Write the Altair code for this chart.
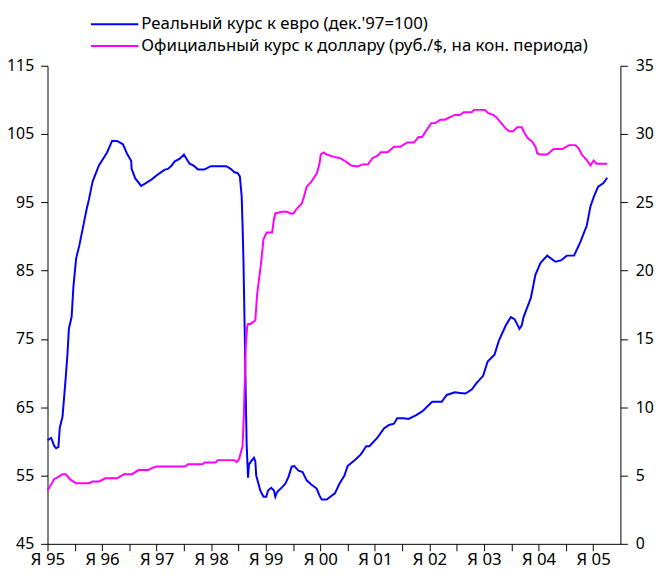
import altair as alt
import pandas as pd

# Real exchange rate to euro (Dec'97=100), left axis; t = months since Jan 1995
blue_t = [0, 0.8, 1.5, 1.9, 2.4, 2.7, 3.3, 4.0, 4.4, 4.7, 5.3, 5.7, 6.3, 7.0, 8.0, 8.6, 9.1, 9.9,
          11.3, 13.1, 14.2, 15.3, 16.6, 17.5, 18.4, 18.5, 19.3, 20.6, 21.8, 23.0, 24.3, 25.8, 26.5,
          27.3, 28.0, 29.1, 30.0, 31.2, 32.3, 33.1, 34.5, 35.9, 39.3, 40.3, 41.1, 41.8, 42.3, 42.7,
          42.9, 43.1, 43.4, 43.6, 43.8, 44.1, 44.3, 44.8, 45.4, 45.7, 45.9, 46.8, 47.5, 48.1, 48.5,
          49.2, 49.8, 50.1, 50.5, 51.6, 52.3, 53.0, 53.7, 54.3, 55.2, 56.1, 57.0, 58.0, 59.2, 59.8,
          60.3, 61.4, 63.2, 64.2, 65.3, 66.0, 67.8, 68.9, 70.1, 70.8, 72.6, 74.0, 75.1, 76.2, 76.9,
          78.3, 79.4, 81.0, 82.4, 84.6, 86.7, 87.8, 89.6, 90.7, 91.9, 93.3, 94.3, 95.8, 96.8, 98.3,
          99.3, 100.8, 101.9, 102.7, 103.8, 104.3, 104.7, 106.3, 107.3, 108.4, 109.9, 111.7, 112.9,
          114.2, 115.8, 117.2, 118.6, 119.4, 120.2, 121.1, 122.2, 123.1]
blue_v = [60.2, 60.5, 59.3, 59.0, 59.2, 62.0, 63.6, 69.3, 72.9, 76.5, 78.2, 82.7, 86.8, 88.7, 92.0,
          94.0, 95.4, 98.0, 100.4, 102.3, 104.0, 104.0, 103.5, 102.1, 101.1, 99.9, 98.5, 97.4, 97.9,
          98.4, 99.1, 99.8, 99.9, 100.4, 101.0, 101.4, 102.0, 100.7, 100.3, 99.8, 99.8, 100.3, 100.3,
          99.9, 99.4, 99.3, 98.8, 95.9, 91.6, 86.3, 74.9, 66.7, 59.5, 54.7, 56.6, 57.1, 57.6, 57.1,
          55.0, 52.8, 51.9, 51.9, 52.8, 53.2, 52.8, 51.9, 52.6, 53.3, 53.8, 54.8, 56.3, 56.4, 55.7,
          55.5, 54.3, 53.7, 53.1, 52.1, 51.5, 51.5, 52.4, 53.8, 55.0, 56.4, 57.4, 58.1, 59.3, 59.3,
          60.6, 61.9, 62.4, 62.6, 63.4, 63.4, 63.3, 63.8, 64.4, 65.8, 65.8, 66.8, 67.2, 67.1, 67.0,
          67.6, 68.5, 69.6, 71.7, 72.7, 74.8, 77.0, 78.2, 77.9, 76.5, 77.0, 78.2, 81.0, 84.4, 86.1,
          87.2, 86.3, 86.5, 87.2, 87.2, 89.2, 91.6, 94.4, 95.9, 97.3, 97.8, 98.6]

# Official rate to the dollar (rub/$, end of period), right axis
pink_t = [0, 1.5, 2.2, 3.3, 4.0, 5.1, 6.3, 9.2, 9.9, 11.3, 12.7, 15.3, 16.8, 18.6, 20.0, 22.2,
          22.9, 24.0, 30.2, 30.9, 34.1, 34.5, 37.0, 37.4, 41.1, 41.6, 42.1, 42.9, 43.2, 43.6, 43.9,
          44.1, 44.6, 45.7, 46.1, 47.0, 47.5, 48.2, 49.4, 49.8, 50.1, 51.6, 52.7, 53.4, 54.1, 54.8,
          55.9, 56.3, 57.0, 58.0, 59.2, 59.8, 60.1, 60.7, 61.4, 62.8, 64.2, 65.3, 66.8, 68.2, 69.3,
          70.5, 71.5, 72.6, 73.3, 74.8, 76.2, 77.6, 79.1, 80.6, 81.6, 82.4, 83.2, 84.4, 85.3, 86.4,
          87.4, 88.5, 89.6, 90.7, 91.5, 93.3, 93.8, 96.2, 96.9, 98.0, 98.7, 99.8, 100.8, 101.5, 102.4,
          103.3, 104.3, 104.9, 105.6, 106.6, 107.4, 107.7, 108.4, 109.9, 111.3, 113.2, 114.7, 116.1,
          116.8, 117.5, 118.6, 119.4, 120.1, 120.8, 123.1]
pink_v = [3.9, 4.75, 4.87, 5.1, 5.1, 4.68, 4.44, 4.44, 4.56, 4.56, 4.8, 4.8, 5.1, 5.1, 5.4, 5.4,
          5.54, 5.66, 5.66, 5.82, 5.82, 5.95, 5.95, 6.13, 6.13, 5.99, 6.18, 7.14, 9.65, 14.4, 15.87,
          16.1, 16.1, 16.35, 18.26, 20.65, 22.3, 22.8, 22.8, 23.76, 24.19, 24.31, 24.31, 24.19, 24.19,
          24.53, 24.9, 25.3, 26.15, 26.5, 27.1, 27.8, 28.5, 28.66, 28.5, 28.35, 28.25, 28.06, 27.7,
          27.63, 27.78, 27.78, 28.25, 28.42, 28.66, 28.66, 29.07, 29.07, 29.38, 29.38, 29.78, 29.78,
          30.2, 30.8, 30.8, 31.05, 31.05, 31.24, 31.4, 31.4, 31.6, 31.6, 31.77, 31.77, 31.53, 31.4,
          31.24, 30.8, 30.4, 30.2, 30.2, 30.5, 30.5, 30.1, 29.7, 29.45, 29.0, 28.6, 28.5, 28.5, 28.9,
          28.9, 29.19, 29.19, 28.95, 28.5, 28.1, 27.7, 28.06, 27.83, 27.83]

blue_name = "Реальный курс к евро (дек.'97=100)"
pink_name = "Официальный курс к доллару (руб./$, на кон. периода)"
blue_color = "#0000FF"
pink_color = "#FF00FF"

left_ticks = [45, 55, 65, 75, 85, 95, 105, 115]
right_ticks = [0, 5, 10, 15, 20, 25, 30, 35]
x_ticks = list(range(0, 121, 6))

FONT = "Noto Sans"
FS = 16
LEG_FS = 17

df_b = pd.DataFrame({"t": blue_t, "v": blue_v})
df_p = pd.DataFrame({"t": pink_t, "v": pink_v})

x_enc = alt.X(
    "t:Q",
    scale=alt.Scale(domain=[0, 126], nice=False, zero=False),
    axis=alt.Axis(
        values=x_ticks,
        labelExpr="datum.value % 12 == 0 ? 'Я ' + ((95 + datum.value / 12) % 100 < 10 ? '0' : '') + ((95 + datum.value / 12) % 100) : ''",
        title=None, grid=False, tickSize=7, labelPadding=1, labelFontSize=17,
        labelOverlap=False, labelFlush=False,
    ),
)

blue = alt.Chart(df_b).mark_line(color=blue_color, strokeWidth=2).encode(
    x=x_enc,
    y=alt.Y("v:Q", scale=alt.Scale(domain=[45, 115], nice=False, zero=False),
            axis=alt.Axis(values=left_ticks, orient="left", title=None, grid=False,
                          tickSize=7, labelPadding=7)),
)

pink = alt.Chart(df_p).mark_line(color=pink_color, strokeWidth=2).encode(
    x=x_enc,
    y=alt.Y("v:Q", scale=alt.Scale(domain=[0, 35], nice=False, zero=False),
            axis=alt.Axis(values=right_ticks, orient="right", title=None, grid=False,
                          tickSize=7, labelPadding=8)),
)

# legend (drawn as rules + texts above the plot)
leg_b_line = alt.Chart(pd.DataFrame({"n": [blue_name]})).mark_rule(color=blue_color, strokeWidth=2).encode(
    x=alt.value(44), x2=alt.value(92), y=alt.value(-42))
leg_p_line = alt.Chart(pd.DataFrame({"n": [pink_name]})).mark_rule(color=pink_color, strokeWidth=2).encode(
    x=alt.value(44), x2=alt.value(92), y=alt.value(-20))
leg_b_text = alt.Chart(pd.DataFrame({"n": [blue_name]})).mark_text(
    align="left", baseline="middle", font=FONT, fontSize=LEG_FS, color="black").encode(
    text="n:N", x=alt.value(95), y=alt.value(-42))
leg_p_text = alt.Chart(pd.DataFrame({"n": [pink_name]})).mark_text(
    align="left", baseline="middle", font=FONT, fontSize=LEG_FS, color="black").encode(
    text="n:N", x=alt.value(95), y=alt.value(-20))

chart = alt.layer(blue, pink, leg_b_line, leg_p_line, leg_b_text, leg_p_text).resolve_scale(
    y="independent"
).properties(
    width=580, height=484,
    autosize=alt.AutoSizeParams(type="none"),
    padding={"left": 40, "top": 55, "right": 35, "bottom": 23},
).configure_view(stroke=None).configure_axis(
    labelFont=FONT, labelFontSize=FS, labelColor="black",
    domainColor="black", tickColor="black", domainWidth=1, tickWidth=1,
)

chart.save("out.html", embed_options={"renderer": "svg", "actions": False})
